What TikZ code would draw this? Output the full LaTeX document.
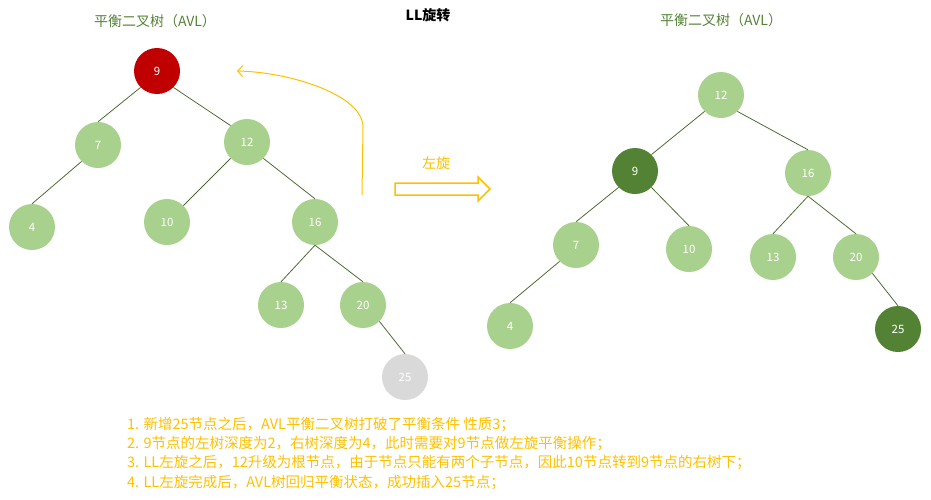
\documentclass[tikz,border=0pt]{standalone}
\usepackage{fontspec}
\setmainfont{Noto Sans CJK SC}
\usetikzlibrary{positioning, arrows.meta}
\definecolor{avlLightGreen}{HTML}{A9D18E}
\definecolor{avlDarkGreen}{HTML}{548235}
\definecolor{avlRed}{HTML}{C00000}
\definecolor{avlGrey}{HTML}{D9D9D9}
\definecolor{avlYellow}{HTML}{FFC000}
\definecolor{avlEdge}{HTML}{4E6B34}

\begin{document}
\begin{tikzpicture}[x=1pt, y=-1pt,
    tnode/.style={circle, fill=avlLightGreen, text=white, minimum size=46pt, inner sep=0pt, font=\fontsize{11.5}{13}\selectfont},
    treeline/.style={avlEdge, line width=0.8pt},
    avltitle/.style={text=avlDarkGreen, font=\fontsize{14}{16}\selectfont},
    notetext/.style={text=avlYellow, anchor=west, inner sep=0pt, font=\fontsize{14.5}{16}\selectfont}]
    \useasboundingbox (0,0) rectangle (931,499);
    \node[avltitle] (titleL) at (155,21) {平衡二叉树（AVL）};
    \node[avltitle] (titleR) at (721,20) {平衡二叉树（AVL）};
    \node[font=\fontsize{14}{16}\selectfont\bfseries] (caption) at (428,15) {LL旋转};
    % before rotation
    \node[tnode, fill=avlRed] (l9) at (157,71) {9};
    \node[tnode] (l7) at (98,145) {7};
    \node[tnode] (l12) at (247,142) {12};
    \node[tnode] (l4) at (32,227) {4};
    \node[tnode] (l10) at (167,222) {10};
    \node[tnode] (l16) at (315,222) {16};
    \node[tnode] (l13) at (281,305) {13};
    \node[tnode] (l20) at (363,305) {20};
    \node[tnode, fill=avlGrey] (l25) at (405,377) {25};
    % after rotation
    \node[tnode] (r12) at (721,95) {12};
    \node[tnode, fill=avlDarkGreen] (r9) at (635,171) {9};
    \node[tnode] (r16) at (808,173) {16};
    \node[tnode] (r7) at (576,245) {7};
    \node[tnode] (r10) at (689,249) {10};
    \node[tnode] (r13) at (773,257) {13};
    \node[tnode] (r20) at (856,257) {20};
    \node[tnode] (r4) at (510,326) {4};
    \node[tnode, fill=avlDarkGreen] (r25) at (898,329) {25};
    \foreach \a/\b in {l9.south west/l7.north, l9.south east/l12.north west, l7.south west/l4.north,
                       l12.south west/l10.north east, l12.south east/l16.north, l16.south/l13.north,
                       l16.south/l20.north, l20.south east/l25.north,
                       r12.south west/r9.north east, r12.south east/r16.north, r9.south west/r7.north,
                       r9.south east/r10.north, r7.south west/r4.north, r16.south/r13.north,
                       r16.south/r20.north, r20.south east/r25.north}
      \draw[treeline] (\a) -- (\b);
    % rotation hint
    \coordinate (rotStart) at (362,195);
    \coordinate (rotEnd) at (237,71);
    \draw[avlYellow, line width=1pt, -{Straight Barb[length=5pt, width=11pt]}]
      (rotStart) -- (363,127) .. controls (363,95) and (290,72) .. (rotEnd);
    \node[text=avlYellow, font=\fontsize{14}{16}\selectfont] (turnLabel) at (436,163) {左旋};
    \draw[avlYellow, line width=1.5pt, fill=white, line join=miter]
      (395,183) -- (478,183) -- (478,177) -- (490,189) -- (478,201) -- (478,195) -- (395,195) -- cycle;
    % notes
    \node[notetext] (n1) at (127,425) {1. 新增25节点之后，AVL平衡二叉树打破了平衡条件 性质3；};
    \node[notetext] (n2) at (127,444) {2. 9节点的左树深度为2，右树深度为4，此时需要对9节点做左旋平衡操作；};
    \node[notetext] (n3) at (127,463) {3. LL左旋之后，12升级为根节点，由于节点只能有两个子节点，因此10节点转到9节点的右树下；};
    \node[notetext] (n4) at (127,483) {4. LL左旋完成后，AVL树回归平衡状态，成功插入25节点；};
\end{tikzpicture}
\end{document}
